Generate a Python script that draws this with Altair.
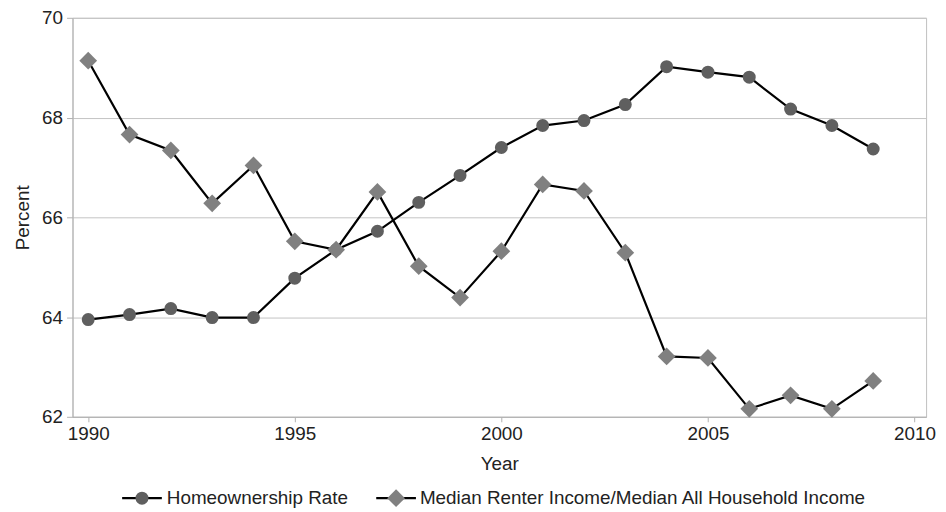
import altair as alt
import pandas as pd

years = list(range(1990, 2010))
homeownership = [63.95, 64.05, 64.17, 63.99, 63.99, 64.78, 65.35, 65.72, 66.30, 66.84,
                 67.40, 67.84, 67.94, 68.26, 69.02, 68.91, 68.81, 68.17, 67.84, 67.37]
renter_ratio = [69.14, 67.66, 67.34, 66.28, 67.04, 65.52, 65.35, 66.51, 65.02, 64.39,
                65.32, 66.66, 66.53, 65.29, 63.21, 63.18, 62.16, 62.43, 62.16, 62.72]
series_names = ["Homeownership Rate", "Median Renter Income/Median All Household Income"]
x_ticks = [1990, 1995, 2000, 2005, 2010]
y_ticks = [62, 64, 66, 68, 70]

FONT = "Liberation Sans"
FS = 19
TXT = "#222222"
LINE_W = 2.2
C_CIRCLE = "#5f5f5f"
C_DIAMOND = "#808080"

df_h = pd.DataFrame({"Year": years, "Value": homeownership})
df_r = pd.DataFrame({"Year": years, "Value": renter_ratio})

x_enc = alt.X("Year:Q",
              scale=alt.Scale(domain=[1989.62, 2010.28], nice=False, zero=False),
              axis=alt.Axis(values=x_ticks, format="d", title="Year", grid=False,
                            tickSize=5, labelPadding=3, titlePadding=11))
y_enc = alt.Y("Value:Q",
              scale=alt.Scale(domain=[62, 70], nice=False, zero=False),
              axis=alt.Axis(values=y_ticks, title="Percent", grid=True,
                            tickSize=6, labelPadding=4, titlePadding=9))

line_h = alt.Chart(df_h).mark_line(color="black", strokeWidth=LINE_W).encode(x=x_enc, y=y_enc)
pts_h = alt.Chart(df_h).mark_point(shape="circle", filled=True, size=170, color=C_CIRCLE,
                                   opacity=1).encode(x="Year:Q", y="Value:Q")
line_r = alt.Chart(df_r).mark_line(color="black", strokeWidth=LINE_W).encode(x="Year:Q", y="Value:Q")
pts_r = alt.Chart(df_r).mark_point(shape="diamond", filled=True, size=320, color=C_DIAMOND,
                                   opacity=1).encode(x="Year:Q", y="Value:Q")

# manual legend (line + marker symbol, as in the reference)
leg_y = 484
leg_layers = []
leg_specs = [
    (series_names[0], 50, 90, 70, "circle", 170, C_CIRCLE, 95),
    (series_names[1], 306, 346, 326, "diamond", 320, C_DIAMOND, 350),
]
for name, x0, x1, xm, shape, size, col, xt in leg_specs:
    d = pd.DataFrame({"label": [name]})
    leg_layers.append(alt.Chart(d).mark_rule(color="black", strokeWidth=LINE_W).encode(
        x=alt.value(x0), x2=alt.value(x1), y=alt.value(leg_y)))
    leg_layers.append(alt.Chart(d).mark_point(shape=shape, filled=True, size=size, color=col,
                                              opacity=1).encode(
        x=alt.value(xm), y=alt.value(leg_y)))
    leg_layers.append(alt.Chart(d).mark_text(align="left", baseline="middle", fontSize=FS,
                                             font=FONT, color=TXT).encode(
        x=alt.value(xt), y=alt.value(leg_y), text="label:N"))

chart = alt.layer(line_h, pts_h, line_r, pts_r, *leg_layers).properties(
    width=860, height=402,
    autosize=alt.AutoSizeParams(type="none"),
    padding={"left": 65, "top": 8, "right": 12, "bottom": 92},
).configure_view(
    stroke="#bfbfbf", strokeWidth=1
).configure_axis(
    domainColor="#b0b0b0", tickColor="#b0b0b0", gridColor="#c4c4c4",
    labelFont=FONT, labelFontSize=FS, labelColor=TXT,
    titleFont=FONT, titleFontSize=FS, titleFontWeight="normal", titleColor=TXT,
)

chart.save("out.html", embed_options={"renderer": "svg", "actions": False})
